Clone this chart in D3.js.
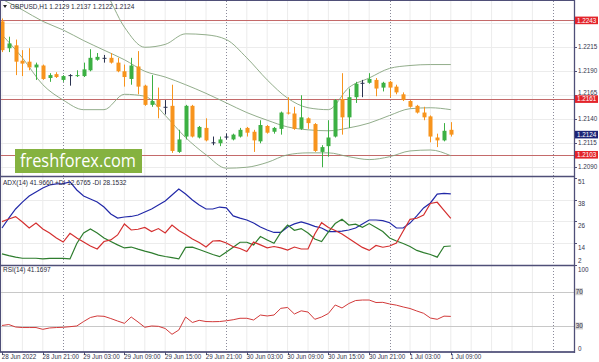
<!DOCTYPE html>
<html>
<head>
<meta charset="utf-8">
<script src="https://cdn.jsdelivr.net/npm/d3@7"></script>
<style>
body { margin: 0; background: #fff; }
svg text { font-family: "Liberation Sans", Arial, sans-serif; }
</style>
</head>
<body>
<svg id="chart" width="599" height="362"></svg>
<script>
// GBPUSD H1, 28 Jun 15:00 .. 1 Jul 09:00 (67 bars)
var opens  = [1.2242,1.2214,1.2217,1.2201,1.2200,1.2194,1.2196,1.2183,1.2187,1.2181,
              1.2186,1.2185,1.2185,1.2191,1.2202,1.2204,1.2204,1.2199,1.2190,1.2182,
              1.2195,1.2175,1.2155,1.2160,1.2153,1.2154,1.2106,1.2122,1.2154,1.2121,
              1.2131,1.2116,1.2115,1.2122,1.2119,1.2122,1.2131,1.2127,1.2117,1.2133,
              1.2127,1.2130,1.2147,1.2146,1.2130,1.2141,1.2135,1.2106,1.2112,1.2122,
              1.2161,1.2142,1.2163,1.2178,1.2178,1.2181,1.2173,1.2179,1.2174,1.2166,
              1.2159,1.2154,1.2147,1.2143,1.2121,1.2118,1.2129];
var highs  = [1.2245,1.2226,1.2223,1.2212,1.2214,1.2199,1.2197,1.2188,1.2189,1.2186,
              1.2187,1.2191,1.2199,1.2213,1.2209,1.2207,1.2209,1.2204,1.2197,1.2204,
              1.2211,1.2176,1.2186,1.2173,1.2160,1.2176,1.2129,1.2155,1.2155,1.2133,
              1.2141,1.2122,1.2122,1.2125,1.2125,1.2131,1.2132,1.2129,1.2139,1.2134,
              1.2132,1.2148,1.2163,1.2153,1.2165,1.2142,1.2136,1.2113,1.2139,1.2161,
              1.2188,1.2172,1.2179,1.2181,1.2188,1.2183,1.2179,1.2180,1.2176,1.2168,
              1.2160,1.2155,1.2153,1.2144,1.2125,1.2136,1.2137];
var lows   = [1.2210,1.2210,1.2186,1.2185,1.2191,1.2181,1.2181,1.2179,1.2183,1.2179,
              1.2175,1.2184,1.2184,1.2190,1.2201,1.2199,1.2198,1.2189,1.2174,1.2176,
              1.2166,1.2154,1.2153,1.2141,1.2145,1.2105,1.2105,1.2119,1.2121,1.2120,
              1.2117,1.2113,1.2112,1.2119,1.2118,1.2121,1.2122,1.2106,1.2115,1.2125,
              1.2125,1.2124,1.2145,1.2129,1.2129,1.2130,1.2106,1.2090,1.2101,1.2121,
              1.2124,1.2131,1.2157,1.2163,1.2177,1.2164,1.2169,1.2163,1.2166,1.2159,
              1.2152,1.2146,1.2139,1.2116,1.2111,1.2117,1.2122];
var closes = [1.2212,1.2219,1.2200,1.2198,1.2194,1.2197,1.2182,1.2186,1.2184,1.2185,
              1.2186,1.2186,1.2192,1.2204,1.2205,1.2204,1.2199,1.2190,1.2184,1.2196,
              1.2174,1.2155,1.2159,1.2153,1.2153,1.2107,1.2119,1.2154,1.2122,1.2132,
              1.2118,1.2116,1.2119,1.2122,1.2124,1.2129,1.2126,1.2118,1.2134,1.2126,
              1.2131,1.2147,1.2146,1.2130,1.2142,1.2136,1.2107,1.2111,1.2121,1.2160,
              1.2142,1.2163,1.2177,1.2178,1.2182,1.2172,1.2178,1.2173,1.2168,1.2160,
              1.2153,1.2147,1.2142,1.2122,1.2118,1.2128,1.2124];

// Bollinger bands, read every 3rd bar
var bbIndex  = [0,3,6,9,12,15,18,21,24,27,30,33,36,39,42,45,48,51,54,57,60,63,66];
var bbUpper  = [1.2303,1.2304,1.2309,1.2306,1.2293,1.2275,1.2236,1.2215,1.2218,1.2229,1.2228,1.2223,
                1.2204,1.2181,1.2162,1.2152,1.2150,1.2173,1.2183,1.2193,1.2196,1.2197,1.2197];
var bbMiddle = [1.2265,1.2254,1.2242,1.2233,1.2222,1.2212,1.2202,1.2190,1.2184,1.2176,1.2167,1.2157,
                1.2147,1.2139,1.2132,1.2129,1.2128,1.2131,1.2136,1.2144,1.2151,1.2152,1.2150];
var bbLower  = [1.2228,1.2204,1.2176,1.2160,1.2150,1.2150,1.2166,1.2164,1.2144,1.2121,1.2103,1.2089,
                1.2090,1.2095,1.2103,1.2105,1.2105,1.2101,1.2098,1.2101,1.2107,1.2108,1.2102];

var adx = [22.8,28.4,33.5,37.4,40.8,43.1,45.3,47.0,47.6,47.8, 48.7,44.2,40.8,39.1,37.4,34.6,30.7,28.4,29.0,29.3,
           30.1,31.8,33.5,35.7,38.0,41.4,44.7,41.9,38.6,35.7, 33.5,33.5,34.6,34.1,29.6,28.4,27.3,25.6,23.4,21.7,
           20.3,20.3,23.4,25.1,26.2,25.1,23.7,22.8,20.8,20.8, 21.1,21.7,22.8,25.1,27.3,27.3,27.0,25.8,22.8,22.8,
           25.6,29.6,34.1,36.9,41.9,42.3,42.0];
var plusDI = [8.3,7.3,6.4,5.8,5.8,5.8,5.4,5.7,5.8,5.7, 5.4,14.1,20.0,22.3,20.0,17.2,15.2,13.3,11.6,12.1,
              10.9,9.8,8.8,7.6,6.8,6.1,5.4,11.9,12.0,10.7, 9.3,7.9,6.7,9.3,12.0,14.8,14.8,13.3,18.0,16.1,
              14.2,20.3,24.5,21.5,22.5,20.0,16.6,15.2,20.6,25.3, 27.7,24.5,25.0,23.2,25.3,23.1,20.8,17.2,15.5,14.1,
              12.4,10.2,9.0,7.9,6.4,12.4,12.7];
var minusDI = [26.4,27.9,29.2,26.2,22.8,25.6,22.3,20.0,17.2,14.9, 19.8,17.2,14.9,12.7,11.0,15.2,16.1,18.9,25.1,21.7,
               22.1,23.1,20.8,22.5,20.0,24.5,21.4,19.2,16.6,14.7, 12.1,15.5,15.7,14.4,12.3,11.3,9.6,14.9,13.3,11.7,
               12.4,11.6,10.4,12.1,11.0,11.0,19.4,25.8,23.1,21.4, 19.4,16.9,14.4,11.9,10.2,13.0,12.0,12.7,14.4,21.1,
               27.7,28.3,30.1,36.6,37.3,32.7,28.2];
var rsi = [30.6,31.7,28.8,28.2,28.2,28.2,26.1,27.7,28.2,28.5, 29.2,30.0,35.2,39.9,41.7,41.3,38.7,35.8,33.1,40.5,
           34.7,28.5,30.0,29.6,27.1,20.3,25.3,40.5,34.1,36.6, 35.2,35.0,35.2,36.1,37.3,39.0,39.0,37.0,42.8,41.7,
           42.8,50.6,51.6,44.0,47.7,46.3,37.8,40.5,44.6,54.5, 51.0,56.2,59.7,60.3,60.3,57.4,57.6,55.7,54.3,52.2,
           50.4,47.5,44.8,39.3,37.8,41.5,41.2];

var timeLabels = ["28 Jun 2022","28 Jun 21:00","29 Jun 03:00","29 Jun 09:00","29 Jun 15:00","29 Jun 21:00",
                  "30 Jun 03:00","30 Jun 09:00","30 Jun 15:00","30 Jun 21:00","1 Jul 03:00","1 Jul 09:00"];
var daySeparators = [9, 33, 57, 81];
var priceGrid = [1.2240, 1.2215, 1.2190, 1.2165, 1.2140, 1.2115, 1.2090];
var priceLabels = [1.2215, 1.2190, 1.2165, 1.2140, 1.2115, 1.2090];
var levelLines = [1.2243, 1.2161, 1.2103];
var adxTicks = [51, 38.75, 26.5, 14.25, 2];
var rsiLevels = [70, 30];

// layout
var plotR = 574;
var mainTop = 1, mainBot = 176, adxTop = 177, adxBot = 265, rsiTop = 266, rsiBot = 352;
var frameCol = "#4f4f78", textCol = "#34344c", gridCol = "#ececec";
var upCol = "#3cb043", downCol = "#f7941d", dojiCol = "#2b3350";

var svg = d3.select("#chart");
var x = d3.scaleLinear().domain([0, 81]).range([2, 552.8]);
var y = d3.scaleLinear().domain([1.20809, 1.22632]).range([mainBot, mainTop]);
var yAdx = d3.scaleLinear().domain([2, 51.5]).range([adxBot, adxTop]);
var yRsi = d3.scaleLinear().domain([0, 100]).range([rsiBot - 0.3, rsiTop]);

var defs = svg.append("defs");
[["clipMain", mainTop, mainBot], ["clipAdx", adxTop, adxBot], ["clipRsi", rsiTop, rsiBot]].forEach(function(c) {
    defs.append("clipPath").attr("id", c[0]).append("rect")
        .attr("x", 0).attr("y", c[1]).attr("width", plotR).attr("height", c[2] - c[1]);
});

// grid
var gridIdx = d3.range(0, 82, 3).filter(function(i) { return daySeparators.indexOf(i) < 0; });
[[mainTop, mainBot], [adxTop, adxBot], [rsiTop, rsiBot]].forEach(function(p) {
    svg.append("g").selectAll("line").data(gridIdx).enter().append("line")
        .attr("x1", function(d) { return x(d); }).attr("x2", function(d) { return x(d); })
        .attr("y1", p[0]).attr("y2", p[1]).attr("stroke", gridCol).attr("stroke-width", 1);
});
svg.append("g").selectAll("line").data(priceGrid).enter().append("line")
    .attr("x1", 0).attr("x2", plotR)
    .attr("y1", function(d) { return Math.round(y(d)) + 0.5; }).attr("y2", function(d) { return Math.round(y(d)) + 0.5; })
    .attr("stroke", gridCol);
svg.append("g").selectAll("line").data(adxTicks.slice(1, 4)).enter().append("line")
    .attr("x1", 0).attr("x2", plotR)
    .attr("y1", function(d) { return Math.round(yAdx(d)) + 0.5; }).attr("y2", function(d) { return Math.round(yAdx(d)) + 0.5; })
    .attr("stroke", gridCol);

// day separators
svg.append("g").selectAll("line").data(daySeparators).enter().append("line")
    .attr("x1", function(d) { return Math.round(x(d)) + 0.5; }).attr("x2", function(d) { return Math.round(x(d)) + 0.5; })
    .attr("y1", mainTop).attr("y2", rsiBot)
    .attr("stroke", "#8a8a9a").attr("stroke-dasharray", "1,2");

// main panel
var main = svg.append("g").attr("clip-path", "url(#clipMain)");

main.selectAll("line.level").data(levelLines).enter().append("line")
    .attr("class", "level")
    .attr("x1", 0).attr("x2", plotR)
    .attr("y1", function(d) { return Math.round(y(d)) + 0.5; }).attr("y2", function(d) { return Math.round(y(d)) + 0.5; })
    .attr("stroke", "#c46a6a").attr("stroke-width", 1);

[bbUpper, bbMiddle, bbLower].forEach(function(band) {
    main.append("path")
        .datum(band)
        .attr("fill", "none").attr("stroke", "#86a47e").attr("stroke-width", 0.9)
        .attr("d", d3.line()
            .x(function(d, k) { return x(bbIndex[k]); })
            .y(function(d) { return y(d); })
            .curve(d3.curveMonotoneX));
});

var candles = main.append("g").selectAll("g").data(opens).enter().append("g");
function candleCol(i) {
    if (opens[i] === closes[i]) return dojiCol;
    return closes[i] > opens[i] ? upCol : downCol;
}
candles.append("line")
    .attr("x1", function(d, i) { return Math.round(x(i)) + 0.5; })
    .attr("x2", function(d, i) { return Math.round(x(i)) + 0.5; })
    .attr("y1", function(d, i) { return y(highs[i]); })
    .attr("y2", function(d, i) { return y(lows[i]); })
    .attr("stroke", function(d, i) { return candleCol(i); }).attr("stroke-width", 1);
candles.append("rect")
    .attr("x", function(d, i) { return Math.round(x(i)) - 1.5; })
    .attr("width", 4)
    .attr("y", function(d, i) { return y(Math.max(opens[i], closes[i])); })
    .attr("height", function(d, i) { return Math.max(1, Math.abs(y(opens[i]) - y(closes[i]))); })
    .attr("fill", function(d, i) { return candleCol(i); });

// watermark
svg.append("rect").attr("x", 15).attr("y", 149).attr("width", 127).attr("height", 24).attr("fill", "#85b240");
svg.append("text").attr("x", 20).attr("y", 166.5)
    .attr("textLength", 116).attr("lengthAdjust", "spacingAndGlyphs")
    .style("font-family", "'Open Sans', sans-serif").style("font-size", "19px")
    .attr("fill", "#ffffff").text("freshforex.com");

// ADX panel
var adxG = svg.append("g").attr("clip-path", "url(#clipAdx)");
[[adx, "#2229a8"], [plusDI, "#2e7d2e"], [minusDI, "#d42f2f"]].forEach(function(s) {
    adxG.append("path").datum(s[0])
        .attr("fill", "none").attr("stroke", s[1]).attr("stroke-width", 1.2)
        .attr("d", d3.line().x(function(d, i) { return x(i); }).y(function(d) { return yAdx(d); }));
});

// RSI panel
var rsiG = svg.append("g").attr("clip-path", "url(#clipRsi)");
rsiG.selectAll("line").data(rsiLevels).enter().append("line")
    .attr("x1", 0).attr("x2", plotR)
    .attr("y1", function(d) { return Math.round(yRsi(d)) + 0.5; }).attr("y2", function(d) { return Math.round(yRsi(d)) + 0.5; })
    .attr("stroke", "#c8c8c8");
rsiG.append("path").datum(rsi)
    .attr("fill", "none").attr("stroke", "#d23a3a").attr("stroke-width", 1)
    .attr("d", d3.line().x(function(d, i) { return x(i); }).y(function(d) { return yRsi(d); }));

// frame
svg.append("rect").attr("x", 0.5).attr("y", 0.5).attr("width", plotR).attr("height", rsiBot - 0.5)
    .attr("fill", "none").attr("stroke", frameCol).attr("stroke-width", 1);
[mainBot + 0.5, adxBot + 0.5, rsiBot].forEach(function(yy) {
    svg.append("line").attr("x1", 0).attr("x2", plotR + 1).attr("y1", yy).attr("y2", yy)
        .attr("stroke", frameCol).attr("stroke-width", 1.6);
});
svg.append("line").attr("x1", plotR + 0.5).attr("x2", plotR + 0.5).attr("y1", 0).attr("y2", rsiBot + 1)
    .attr("stroke", frameCol).attr("stroke-width", 1.3);

// right axis: main
var axisTxt = function(sel) { return sel.style("font-size", "6.3px").attr("fill", textCol); };
var pt = svg.append("g");
pt.selectAll("line").data(priceGrid).enter().append("line")
    .attr("x1", plotR).attr("x2", plotR + 3)
    .attr("y1", function(d) { return Math.round(y(d)) + 0.5; }).attr("y2", function(d) { return Math.round(y(d)) + 0.5; })
    .attr("stroke", frameCol);
// a label that would sit under a price tag is pushed clear of it
function labelBase(v) {
    var yy = y(v) + 2.2;
    levelLines.forEach(function(l) {
        var ty = y(l);
        if (Math.abs(ty - y(v)) < 8 && y(v) < ty) yy = Math.min(yy, ty - 4.6);
        if (Math.abs(ty - y(v)) < 8 && y(v) >= ty) yy = Math.max(yy, ty + 9.4);
    });
    return yy;
}
axisTxt(pt.selectAll("text").data(priceLabels).enter().append("text")
    .attr("x", plotR + 4).attr("y", labelBase)
    .text(function(d) { return d.toFixed(4); }));

function priceTag(v, fill) {
    svg.append("rect").attr("x", plotR + 1).attr("y", y(v) - 3.8).attr("width", 23).attr("height", 7.6).attr("fill", fill);
    svg.append("text").attr("x", plotR + 3).attr("y", y(v) + 2.2)
        .style("font-size", "6.3px").attr("fill", "#fff").text(v.toFixed(4));
}
levelLines.forEach(function(v) { priceTag(v, "#e3242b"); });
priceTag(closes[closes.length - 1], "#1c2377");

// right axis: ADX
axisTxt(svg.append("g").selectAll("text").data(adxTicks).enter().append("text")
    .attr("x", plotR + 4)
    .attr("y", function(d, k) { return k === adxTicks.length - 1 ? yAdx(d) - 2 : yAdx(d) + 6.5; })
    .text(function(d) { return Math.floor(d); }));
svg.append("g").selectAll("line").data(adxTicks).enter().append("line")
    .attr("x1", plotR).attr("x2", plotR + 3)
    .attr("y1", function(d) { return Math.round(yAdx(d)) + 0.5; }).attr("y2", function(d) { return Math.round(yAdx(d)) + 0.5; })
    .attr("stroke", frameCol);

// right axis: RSI
axisTxt(svg.append("text").attr("x", plotR + 4).attr("y", yRsi(100) + 5.5).text("100"));
axisTxt(svg.append("text").attr("x", plotR + 4).attr("y", yRsi(0) - 1).text("0"));
rsiLevels.forEach(function(v) {
    svg.append("rect").attr("x", plotR + 1).attr("y", yRsi(v) - 3.5).attr("width", 8).attr("height", 7).attr("fill", "#d0d0d0");
    axisTxt(svg.append("text").attr("x", plotR + 1.8).attr("y", yRsi(v) + 2.2).text(v));
});

// time axis
var tx = svg.append("g");
tx.selectAll("line").data(timeLabels).enter().append("line")
    .attr("x1", function(d, k) { return Math.round(x(k * 6)) + 0.5; }).attr("x2", function(d, k) { return Math.round(x(k * 6)) + 0.5; })
    .attr("y1", rsiBot).attr("y2", rsiBot + 3).attr("stroke", frameCol);
axisTxt(tx.selectAll("text").data(timeLabels).enter().append("text")
    .attr("x", function(d, k) { return x(k * 6) - 0.3; })
    .attr("y", 359.2)
    .text(function(d) { return d; }));

// titles
svg.append("path").attr("d", "M3,5 L7,5 L5,8 Z").attr("fill", "#222");
svg.append("text").attr("x", 10).attr("y", 8.5).style("font-size", "6.5px").attr("fill", "#2a2a3a")
    .text("GBPUSD,H1  " + opens[66].toFixed(4) + " " + highs[66].toFixed(4) + " " + lows[66].toFixed(4) + " " + closes[66].toFixed(4));
svg.append("text").attr("x", 3).attr("y", 185).style("font-size", "6.5px").attr("fill", "#2a2a3a")
    .text("ADX(14) 41.9660 +DI 12.6765 -DI 28.1532");
svg.append("text").attr("x", 3).attr("y", 272.3).style("font-size", "6.5px").attr("fill", "#2a2a3a")
    .text("RSI(14) 41.1697");
</script>
</body>
</html>
